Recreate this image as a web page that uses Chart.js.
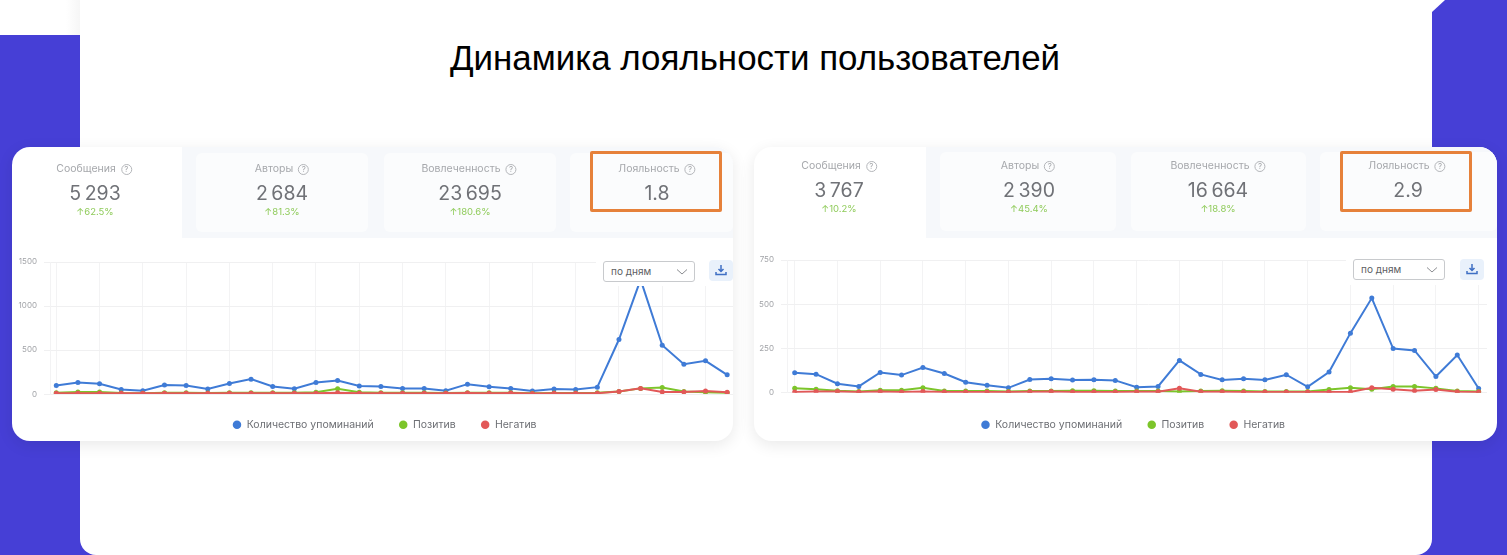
<!DOCTYPE html>
<html lang="ru">
<head>
<meta charset="utf-8">
<title>Динамика лояльности пользователей</title>
<script src="https://cdn.jsdelivr.net/npm/chart.js@4"></script>
<style>
    * { box-sizing: border-box; }
    html, body { margin: 0; width: 1507px; height: 555px; overflow: hidden; background: #fff; font-family: Inter, sans-serif; }
    .side, .panel, .card, .tab, .stat, .orange, .mask, .select, .dl, .corner { position: absolute; }
    .side { background: #463fd6; top: 35px; bottom: 0; }
    .corner { background: #463fd6; top: 530px; width: 24px; height: 25px; }
    .panel { left: 80px; top: -20px; width: 1352px; height: 575px; background: #fff; border-radius: 0 0 16px 16px; }
    .fade { position: absolute; left: 66px; top: 0; width: 14px; height: 35px; background: linear-gradient(90deg, #fff, #f6f6f6); }
    h1 { position: absolute; left: 0; width: 1510px; top: 38px; margin: 0; text-align: center; font: 400 34.9px "Liberation Sans", Arial, sans-serif; color: #000; }
    .card { top: 147px; height: 294px; background: #fff; border-radius: 18px; overflow: hidden; box-shadow: 0 4px 16px rgba(0,0,0,.09); filter: blur(.35px); }
    .strip { position: absolute; top: 0; height: 91px; right: 0; background: #f6f8fb; }
    .tab { background: #fbfcfd; border-radius: 6px; }
    .stat { text-align: center; white-space: nowrap; transform: translateX(-50%); }
    .lbl { color: #a6a8ac; font-size: 10.5px; }
    .val { color: #707277; font-size: 19.5px; font-weight: 400; }
    .pct { color: #8fcb5a; font-size: 9.5px; }
    .q { display: inline-block; width: 11px; height: 11px; border: 1px solid #b4b6ba; border-radius: 50%; margin-left: 5px; font-size: 8px; line-height: 9px; color: #a6a8ac; text-align: center; vertical-align: 0; }
    .orange { width: 132px; height: 61px; top: 151px; border: 3.5px solid #e6813a; border-radius: 2px; z-index: 5; }
    canvas { position: absolute; left: 0; top: 93px; }
    .mask { background: #fff; }
    .select { width: 92px; height: 21px; background: #fff; border: 1px solid #c8cacd; border-radius: 3px; color: #5c5e62; font-size: 10px; line-height: 19px; padding-left: 7px; }
    .select svg { position: absolute; right: 6px; top: 6px; }
    .dl { width: 24px; height: 21px; background: #e9f1fb; border-radius: 4px; }
    .dl svg { position: absolute; left: 6px; top: 4px; }
</style>
</head>
<body>
<div class="side" style="left:0;width:80px"></div>
<div class="side" style="left:1432px;width:75px;top:0;clip-path:polygon(13px 0,100% 0,100% 100%,0 100%,0 12px)"></div>
<div class="corner" style="left:80px"></div>
<div class="corner" style="left:1408px"></div>
<div class="fade"></div>
<div class="panel"></div>
<h1>Динамика лояльности пользователей</h1>

<div class="card" id="card1" style="left:12px;width:721px">
    <div class="strip" style="left:170px"></div>
    <div class="tab" style="left:184px;top:6px;width:172px;height:79px"></div>
    <div class="tab" style="left:372px;top:6px;width:172px;height:79px"></div>
    <div class="tab" style="left:558px;top:6px;width:163px;height:79px"></div>
    <canvas id="chart1" width="745" height="200"></canvas>
    <div class="mask" style="left:584px;top:108px;width:137px;height:31px"></div>
    <div class="select" style="left:591px;top:114px">по дням<svg width="12" height="8" viewBox="0 0 12 8"><path d="M1 1.5l5 4.5 5-4.500" fill="none" stroke="#8b8d91"/></svg></div>
    <div class="dl" style="left:697px;top:113px"><svg width="12" height="13" viewBox="0 0 12 13"><path d="M6 1v6M3.500 5L6 7.500 8.500 5M1 8v2.500h10V8" fill="none" stroke="#3f6fc4" stroke-width="1.500"/></svg></div>
</div>
<div class="card" id="card2" style="left:754px;width:743px">
    <div class="strip" style="left:172px"></div>
    <div class="tab" style="left:186px;top:5px;width:176px;height:79px"></div>
    <div class="tab" style="left:377px;top:5px;width:175px;height:79px"></div>
    <div class="tab" style="left:566px;top:5px;width:177px;height:79px"></div>
    <canvas id="chart2" width="758" height="200"></canvas>
    <div class="mask" style="left:592px;top:106px;width:144px;height:32px"></div>
    <div class="mask" style="left:733px;top:100px;width:10px;height:160px"></div>
    <div class="select" style="left:599px;top:112px">по дням<svg width="12" height="8" viewBox="0 0 12 8"><path d="M1 1.5l5 4.5 5-4.500" fill="none" stroke="#8b8d91"/></svg></div>
    <div class="dl" style="left:706px;top:112px"><svg width="12" height="13" viewBox="0 0 12 13"><path d="M6 1v6M3.500 5L6 7.500 8.500 5M1 8v2.500h10V8" fill="none" stroke="#3f6fc4" stroke-width="1.500"/></svg></div>
</div>
<div class="orange" style="left:590px"></div>
<div class="orange" style="left:1340px"></div>

<script>
    // Левый график: февраль 28 дней + 4 дня марта
    const dates1 = ['01.02','02.02','03.02','04.02','05.02','06.02','07.02','08.02','09.02','10.02','11.02','12.02','13.02','14.02','15.02','16.02','17.02','18.02','19.02','20.02','21.02','22.02','23.02','24.02','25.02','26.02','27.02','28.02','01.03','02.03','03.03','04.03'];
    const mentions1 = [98,132,117,53,38,102,98,57,121,170,87,60,132,155,91,87,64,64,38,113,83,64,34,57,53,79,620,1300,555,340,378,219];
    const positive1 = [15,25,25,12,10,15,15,12,15,15,15,15,20,60,20,15,15,15,12,15,15,15,10,12,12,15,30,65,75,30,20,15];
    const negative1 = [10,10,10,10,10,10,10,10,10,10,10,10,10,15,10,10,10,10,10,12,10,12,8,10,10,10,30,65,25,25,35,20];
    const yTicks1 = [0,500,1000,1500];

    // Правый график: февраль 29 дней + 4 дня марта
    const dates2 = ['01.02','02.02','03.02','04.02','05.02','06.02','07.02','08.02','09.02','10.02','11.02','12.02','13.02','14.02','15.02','16.02','17.02','18.02','19.02','20.02','21.02','22.02','23.02','24.02','25.02','26.02','27.02','28.02','29.02','01.03','02.03','03.03','04.03'];
    const mentions2 = [113,105,51,36,115,100,143,109,60,43,28,75,79,72,73,70,32,36,183,104,73,79,73,102,34,117,337,535,250,239,92,213,24];
    const positive2 = [25,20,12,8,14,14,28,10,10,10,8,10,10,12,12,10,10,10,8,10,12,10,8,8,8,18,28,20,35,35,25,10,8];
    const negative2 = [5,8,8,5,7,5,8,5,5,5,5,6,8,5,5,5,6,6,25,6,6,5,5,5,5,5,5,28,20,12,18,6,5];
    const yTicks2 = [0,250,500,750];

    const seriesNames = ['Количество упоминаний','Позитив','Негатив'];
    const seriesColors = ['#3f7bd6','#7cc52a','#e25858'];

    // Карточки с показателями: [подпись, значение, прирост, центр подписи, центр значения]
    const stats1 = [
        ['Сообщения','5\u2009293','↑62.5%',94,95],
        ['Авторы','2\u2009684','↑81.3%',282,282],
        ['Вовлеченность','23\u2009695','↑180.6%',469,470],
        ['Лояльность','1.8','',657,657]
    ];
    const stats2 = [
        ['Сообщения','3\u2009767','↑10.2%',839,839],
        ['Авторы','2\u2009390','↑45.4%',1028,1029],
        ['Вовлеченность','16\u2009664','↑18.8%',1218,1218],
        ['Лояльность','2.9','',1407,1408]
    ];

    function addStats(stats, cardId, cardLeft, topShift) {
        const card = document.getElementById(cardId);
        stats.forEach(s => {
            const put = (cls, html, x, y) => {
                const el = document.createElement('div');
                el.className = 'stat ' + cls;
                el.innerHTML = html;
                el.style.left = (x - cardLeft) + 'px';
                el.style.top = (y + topShift) + 'px';
                card.appendChild(el);
            };
            put('lbl', s[0] + '<span class="q">?</span>', s[3], 15);
            put('val', s[1], s[4], 34);
            if (s[2]) put('pct', s[2], s[4], 59);
        });
    }
    addStats(stats1, 'card1', 12, 0);
    addStats(stats2, 'card2', 754, -3);

    function makeChart(id, dates, mentions, positive, negative, yTicks, o) {
        const toPoints = arr => arr.map((v, i) => ({ x: i, y: v }));
        const dataset = (name, color, arr, order) => ({
            label: name,
            data: toPoints(arr),
            order: order,
            borderColor: color,
            backgroundColor: color,
            borderWidth: 2,
            pointRadius: 2.5,
            pointBorderWidth: 0,
            pointHoverRadius: 3,
            tension: 0
        });
        return new Chart(document.getElementById(id).getContext('2d'), {
            type: 'line',
            data: {
                datasets: [
                    dataset(seriesNames[0], seriesColors[0], mentions, 3),
                    dataset(seriesNames[1], seriesColors[1], positive, 2),
                    dataset(seriesNames[2], seriesColors[2], negative, 1)
                ]
            },
            options: {
                responsive: false,
                animation: false,
                layout: { padding: { top: o.top } },
                plugins: {
                    tooltip: { enabled: false },
                    legend: {
                        position: 'bottom',
                        labels: {
                            usePointStyle: true,
                            pointStyle: 'circle',
                            boxWidth: 9,
                            boxHeight: 6,
                            padding: 25,
                            color: '#6d6f74',
                            font: { family: 'Inter', size: 10.5 },
                            sort: (a, b) => a.datasetIndex - b.datasetIndex
                        }
                    }
                },
                scales: {
                    x: {
                        type: 'linear',
                        min: o.xMin,
                        max: o.xMax,
                        afterBuildTicks: scale => {
                            scale.ticks = dates.map((d, i) => ({ value: i })).filter(t => t.value % 2 === 0);
                        },
                        afterFit: scale => { scale.height = o.xHeight; },
                        border: { display: false },
                        grid: { color: '#f3f3f4', drawTicks: false },
                        ticks: {
                            autoSkip: false,
                            maxRotation: 0,
                            padding: 8,
                            color: '#a2a4a8',
                            font: { family: 'Inter', size: 8 },
                            callback: v => dates[v]
                        }
                    },
                    y: {
                        min: yTicks[0],
                        max: yTicks[yTicks.length - 1],
                        afterBuildTicks: scale => { scale.ticks = yTicks.map(v => ({ value: v })); },
                        afterFit: scale => { scale.width = o.yWidth; },
                        border: { display: true, color: '#f3f3f4' },
                        grid: { color: '#f0f0f1', tickLength: 6 },
                        ticks: {
                            padding: 7,
                            color: '#a2a4a8',
                            font: { family: 'Inter', size: 8 },
                            callback: v => String(v)
                        }
                    }
                }
            }
        });
    }

    makeChart('chart1', dates1, mentions1, positive1, negative1, yTicks1, { top: 22, xMin: -0.29, xMax: 32.24, xHeight: 0.4, yWidth: 38 });
    makeChart('chart2', dates2, mentions2, positive2, negative2, yTicks2, { top: 20, xMin: -0.36, xMax: 33.42, xHeight: 1.7, yWidth: 33 });
</script>
</body>
</html>
